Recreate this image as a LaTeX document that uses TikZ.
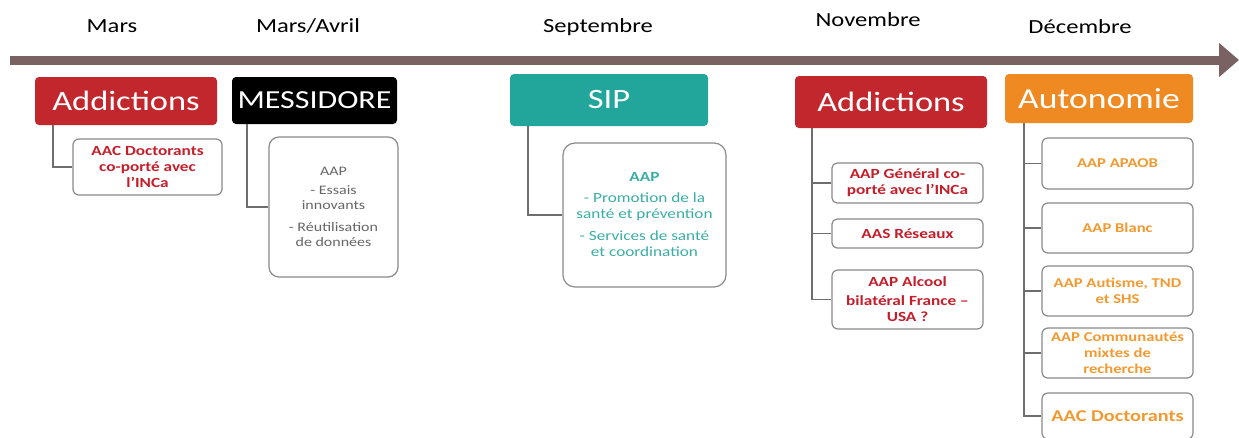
\documentclass[tikz,border=0pt]{standalone}
\usepackage{fontspec}
\setmainfont{Carlito}[FakeStretch=1.23]
\usetikzlibrary{arrows.meta}
\definecolor{hred}{HTML}{C1272D}
\definecolor{tred}{HTML}{C41E2A}
\definecolor{hteal}{HTML}{22A59B}
\definecolor{tteal}{HTML}{3AAEA5}
\definecolor{horange}{HTML}{EF8A23}
\definecolor{torange}{HTML}{F29A30}
\definecolor{tgrey}{HTML}{666666}
\definecolor{boxgrey}{HTML}{8A8A8A}
\definecolor{conngrey}{HTML}{6E6E6E}
\definecolor{arrowc}{HTML}{7B6262}
\newcommand{\fsz}[2]{\fontsize{#1}{#2}\selectfont}
\begin{document}
\begin{tikzpicture}[x=1pt,y=-1pt,
  hdr/.style={fill=#1, rounded corners=4pt, inner sep=0pt, text=white, font=\fsz{28}{30}},
  sub/.style={draw=boxgrey, line width=1.2pt, fill=white, rounded corners=7pt, inner sep=0pt, align=center, text=#1, font=\bfseries\fsz{14}{16}},
  conn/.style={draw=conngrey, line width=1.6pt},
  month/.style={font=\fsz{20}{22}, text=black, inner sep=0pt},
]
\useasboundingbox (0,0) rectangle (1239,437);
\fill[white] (0,0) rectangle (1239,437);

% timeline
\coordinate (t0) at (10,60);
\coordinate (t1) at (1239,60);
\draw[line width=9pt, arrowc, -{Triangle[length=20pt,width=33pt]}] (t0) -- (t1);

% months
\node[month] (m1) at (112,26) {Mars};
\node[month] (m2) at (308,26) {Mars/Avril};
\node[month] (m3) at (598,27) {Septembre};
\node[month] (m4) at (868,20) {Novembre};
\node[month] (m5) at (1080,27) {Décembre};

% headers
\node[hdr=hred, minimum width=182pt, minimum height=48pt] (h1) at (126,101) {Addictions};
\node[hdr=black, minimum width=165pt, minimum height=47pt, font=\fsz{26}{28}] (h2) at (314.5,100.5) {MESSIDORE};
\node[hdr=hteal, minimum width=198pt, minimum height=52pt] (h3) at (609,100) {SIP};
\node[hdr=hred, minimum width=192pt, minimum height=52pt] (h4) at (891,102) {Addictions};
\node[hdr=horange, minimum width=188pt, minimum height=49pt, font=\fsz{29}{31}] (h5) at (1099,98.5) {Autonomie};

% children
\node[sub=tred, minimum width=149pt, minimum height=56pt, rounded corners=6pt] (a1) at (147.5,167) {AAC Doctorants\\co-porté avec\\l’INCa};

\node[sub=tgrey, minimum width=129pt, minimum height=140pt, rounded corners=10pt, font=\fsz{13}{15}] (mm1) at (333.5,207)
  {AAP\\[4pt]- Essais\\innovants\\[7pt]- Réutilisation\\de données};

\node[sub=tteal, minimum width=163pt, minimum height=144pt, rounded corners=12pt, font=\fsz{14}{16}] (s1) at (644.5,215)
  {\textbf{AAP}\\[5pt]- Promotion de la\\santé et prévention\\[6pt]- Services de santé\\et coordination};

\node[sub=tred, minimum width=151pt, minimum height=40pt, rounded corners=5pt] (n1) at (907.5,183) {AAP Général co-\\porté avec l’INCa};
\node[sub=tred, minimum width=151pt, minimum height=29pt, rounded corners=5pt] (n2) at (907.5,233.5) {AAS Réseaux};
\node[sub=tred, minimum width=151pt, minimum height=59pt, rounded corners=6pt] (n3) at (907.5,299.5) {AAP Alcool\\[3pt]bilatéral France –\\USA ?};

\node[sub=torange, minimum width=151pt, minimum height=51pt, rounded corners=6pt, font=\bfseries\fsz{13.5}{16}] (o1) at (1117.5,163.5) {AAP APAOB};
\node[sub=torange, minimum width=151pt, minimum height=50pt, rounded corners=6pt, font=\bfseries\fsz{13.5}{16}] (o2) at (1117.5,228) {AAP Blanc};
\node[sub=torange, minimum width=151pt, minimum height=50pt, rounded corners=6pt, font=\bfseries\fsz{13.5}{16}] (o3) at (1117.5,291) {AAP Autisme, TND\\et SHS};
\node[sub=torange, minimum width=151pt, minimum height=50pt, rounded corners=6pt, font=\bfseries\fsz{13.5}{16}] (o4) at (1117.5,353) {AAP Communautés\\mixtes de\\recherche};
\node[sub=torange, minimum width=151pt, minimum height=46pt, rounded corners=6pt, font=\bfseries\fsz{16.5}{18}] (o5) at (1117.5,416) {AAC Doctorants};

% connectors
\coordinate (v1) at ([xshift=18pt]h1.south west);
\coordinate (v2) at ([xshift=15pt]h2.south west);
\coordinate (v3) at ([xshift=18pt]h3.south west);
\coordinate (v4) at ([xshift=17pt]h4.south west);
\coordinate (v5) at ([xshift=19pt]h5.south west);

\draw[conn] (v1) |- (a1.west);
\draw[conn] (v2) |- (mm1.west);
\draw[conn] (v3) |- (s1.west);
\draw[conn] (v4) |- (n3.west);
\draw[conn] (v4 |- n1.west) -- (n1.west);
\draw[conn] (v4 |- n2.west) -- (n2.west);
\draw[conn] (v5) |- (o5.west);
\draw[conn] (v5 |- o1.west) -- (o1.west);
\draw[conn] (v5 |- o2.west) -- (o2.west);
\draw[conn] (v5 |- o3.west) -- (o3.west);
\draw[conn] (v5 |- o4.west) -- (o4.west);
\end{tikzpicture}
\end{document}
